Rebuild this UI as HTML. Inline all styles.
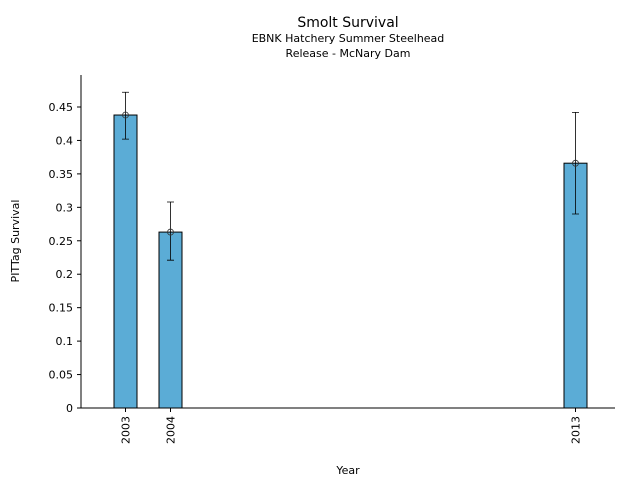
<!DOCTYPE html>
<html><head><meta charset="utf-8"><style>
body{margin:0;background:#fff;font-family:"Liberation Sans","DejaVu Sans",sans-serif}
text{font-family:"DejaVu Sans","Liberation Sans",sans-serif}
</style></head><body>
<svg id="c" width="640" height="480">
<text x="348" y="27" text-anchor="middle" font-size="14">Smolt Survival</text>
<text x="348" y="42" text-anchor="middle" font-size="11">EBNK Hatchery Summer Steelhead</text>
<text x="348" y="57" text-anchor="middle" font-size="11">Release - McNary Dam</text>
<text x="348" y="474" text-anchor="middle" font-size="11">Year</text>
<text transform="translate(19,241) rotate(-90)" text-anchor="middle" font-size="11">PITTag Survival</text>
<g id="plot"></g>
</svg>
<script>
const years=[2003,2004,2013];
const survival=[0.438,0.263,0.366];
const errLow=[0.402,0.221,0.290];
const errHigh=[0.472,0.308,0.442];
const yTicks=[0,0.05,0.1,0.15,0.2,0.25,0.3,0.35,0.4,0.45];
const NS='http://www.w3.org/2000/svg';
const g=document.getElementById('plot');
const y=v=>408-v*(301/0.45);
const x=yr=>125.5+(yr-2003)*45;
function mk(t,a){const e=document.createElementNS(NS,t);for(const k in a)e.setAttribute(k,a[k]);g.appendChild(e);return e;}
let e;
e=mk('line',{x1:81,y1:75,x2:81,y2:408,stroke:'#000'});


e=mk('line',{x1:81,y1:408,x2:615,y2:408,stroke:'#000'});


yTicks.forEach(v=>{
 e=mk('line',{x1:77,y1:y(v),x2:81,y2:y(v),stroke:'#000'});
 
 
 e=mk('text',{x:73,y:y(v)+4,'text-anchor':'end','font-size':11});
 e.textContent=String(v);
 
 
});
years.forEach((yr,i)=>{
 const cx=x(yr);
 e=mk('rect',{x:cx-11.5,y:y(survival[i]),width:23,height:408-y(survival[i]),fill:'#5bacd6',stroke:'#000'});
 
 
 e=mk('path',{d:`M${cx} ${y(errLow[i])}V${y(errHigh[i])}M${cx-3.5} ${y(errLow[i])}h7M${cx-3.5} ${y(errHigh[i])}h7`,stroke:'#000','stroke-width':0.8,fill:'none'});
 
 
 e=mk('circle',{cx:cx,cy:y(survival[i]),r:3,fill:'none',stroke:'#333','stroke-width':0.8});
 
 
 e=mk('line',{x1:cx,y1:408,x2:cx,y2:412,stroke:'#000'});
 
 
 e=mk('text',{transform:`translate(${cx+4},416) rotate(-90)`,'text-anchor':'end','font-size':11});
 e.textContent=String(yr);
 
 
});
</script>
</body></html>
